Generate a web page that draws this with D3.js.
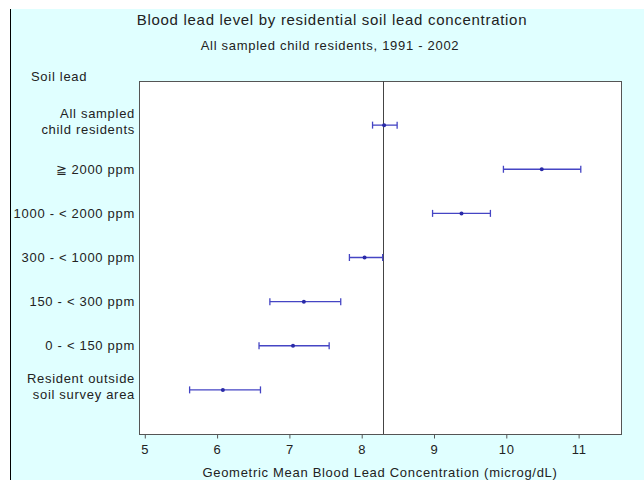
<!DOCTYPE html>
<html>
<head>
<meta charset="utf-8">
<script src="https://cdn.jsdelivr.net/npm/d3@7"></script>
<style>
  body { margin: 0; background: #fff; }
  text { font-family: "Liberation Sans", Arial, sans-serif; fill: #222; letter-spacing: 0.7px; }
</style>
</head>
<body>
<svg id="chart"></svg>
<script>
// chart values
const categories = [
  "All sampled\nchild residents",
  "\u2267 2000 ppm",
  "1000 - < 2000 ppm",
  "300 - < 1000 ppm",
  "150 - < 300 ppm",
  "0 - < 150 ppm",
  "Resident outside\nsoil survey area"
];
const means = [8.31, 10.49, 9.38, 8.04, 7.20, 7.05, 6.08];
const lower = [8.15, 9.96, 8.98, 7.83, 6.73, 6.58, 5.62];
const upper = [8.49, 11.03, 9.78, 8.29, 7.71, 7.55, 6.60];
const refValue = 8.3;
const xTicks = [5, 6, 7, 8, 9, 10, 11];

const width = 644,
      height = 480,
      plotLeft = 139, plotRight = 622,
      plotTop = 81, plotBottom = 434;

const svg = d3.select("#chart")
  .attr("width", width)
  .attr("height", height);

// backdrop
svg.append("rect")
  .attr("x", 11).attr("y", 9)
  .attr("width", width - 11).attr("height", height - 9)
  .attr("fill", "#e0ffff");
svg.append("line")
  .attr("x1", 10.5).attr("x2", 10.5)
  .attr("y1", 9).attr("y2", height)
  .attr("stroke", "#000").attr("stroke-width", 1);

const x = d3.scaleLinear()
  .domain([4.92, 11.6])
  .range([plotLeft, plotRight]);

const y = d3.scalePoint()
  .domain(categories)
  .range([plotTop, plotBottom])
  .padding(1);

// plot area
svg.append("rect")
  .attr("x", plotLeft + 0.5).attr("y", plotTop + 0.5)
  .attr("width", plotRight - plotLeft - 1).attr("height", plotBottom - plotTop)
  .attr("fill", "#fff")
  .attr("stroke", "#555");

// titles
svg.append("text")
  .attr("x", 332).attr("y", 25)
  .attr("text-anchor", "middle")
  .style("font-size", "15px")
  .text("Blood lead level by residential soil lead concentration");

svg.append("text")
  .attr("x", 330).attr("y", 50)
  .attr("text-anchor", "middle")
  .style("font-size", "13px")
  .text("All sampled child residents, 1991 - 2002");

svg.append("text")
  .attr("x", 31).attr("y", 81)
  .style("font-size", "13px")
  .text("Soil lead");

// x axis
const xAxis = svg.append("g")
  .attr("transform", `translate(0,${plotBottom + 0.5})`)
  .call(d3.axisBottom(x).tickValues(xTicks).tickSize(4).tickPadding(6).tickFormat(d3.format("d")));
xAxis.select(".domain").remove();
xAxis.selectAll(".tick line").attr("stroke", "#555");
xAxis.selectAll(".tick text")
  .style("font-size", "13px")
  .style("font-family", "\"Liberation Sans\", Arial, sans-serif")
  .attr("fill", "#222");

svg.append("text")
  .attr("x", 380).attr("y", 477)
  .attr("text-anchor", "middle")
  .style("font-size", "13px")
  .text("Geometric Mean Blood Lead Concentration (microg/dL)");

// y labels
const ylab = svg.append("g").selectAll("text")
  .data(categories)
  .enter()
    .append("text")
    .attr("x", 135)
    .attr("y", (d) => y(d))
    .attr("text-anchor", "end")
    .style("font-size", "13px");

ylab.each(function(d) {
  const lines = d.split("\n");
  const t = d3.select(this);
  lines.forEach((s, i) => {
    t.append("tspan")
      .attr("x", 135)
      .attr("dy", i === 0 ? (lines.length > 1 ? "-0.55em" : "0.35em") : "1.27em")
      .text(s);
  });
});

// reference line
svg.append("line")
  .attr("x1", Math.round(x(refValue)) + 0.5).attr("x2", Math.round(x(refValue)) + 0.5)
  .attr("y1", plotTop).attr("y2", plotBottom)
  .attr("stroke", "#444").attr("stroke-width", 1);

// error bars
const bars = svg.append("g").selectAll("g")
  .data(categories)
  .enter()
    .append("g")
    .attr("stroke", "#4545c4")
    .attr("stroke-width", 1.3);

bars.append("line")
  .attr("x1", (d, i) => x(lower[i]))
  .attr("x2", (d, i) => x(upper[i]))
  .attr("y1", (d) => y(d))
  .attr("y2", (d) => y(d));

bars.append("line")
  .attr("x1", (d, i) => x(lower[i]))
  .attr("x2", (d, i) => x(lower[i]))
  .attr("y1", (d) => y(d) - 3.5)
  .attr("y2", (d) => y(d) + 3.5);

bars.append("line")
  .attr("x1", (d, i) => x(upper[i]))
  .attr("x2", (d, i) => x(upper[i]))
  .attr("y1", (d) => y(d) - 3.5)
  .attr("y2", (d) => y(d) + 3.5);

bars.append("circle")
  .attr("cx", (d, i) => x(means[i]))
  .attr("cy", (d) => y(d))
  .attr("r", 2)
  .attr("stroke", "none")
  .attr("fill", "#2a2aa8");
</script>
</body>
</html>
